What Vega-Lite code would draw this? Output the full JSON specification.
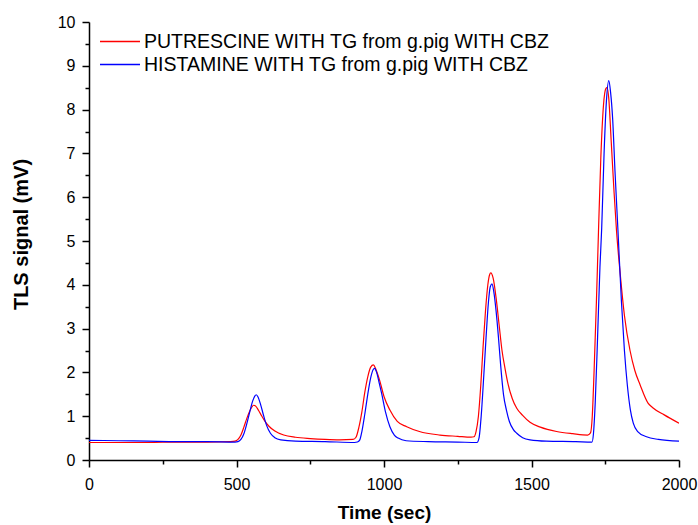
{
  "$schema": "https://vega.github.io/schema/vega-lite/v6.json",
  "width": 590,
  "height": 438,
  "autosize": {"type": "none"},
  "padding": {"left": 89, "top": 22, "right": 19, "bottom": 65},
  "background": "white",
  "config": {
    "view": {"stroke": null},
    "font": "Liberation Sans",
    "axis": {
      "grid": false,
      "domainColor": "black",
      "domainWidth": 1.5,
      "tickColor": "black",
      "tickWidth": 1.5,
      "labelColor": "black",
      "labelFont": "Liberation Sans",
      "labelFontSize": 16,
      "titleFont": "Liberation Sans",
      "titleFontSize": 19,
      "titleFontWeight": "bold",
      "titleColor": "black"
    }
  },
  "data": {"values": [
    {"t":0,"v":0.40,"s":"P"},{"t":100,"v":0.40,"s":"P"},{"t":200,"v":0.40,"s":"P"},{"t":300,"v":0.41,"s":"P"},{"t":400,"v":0.41,"s":"P"},{"t":480,"v":0.42,"s":"P"},{"t":495,"v":0.43,"s":"P"},{"t":505,"v":0.47,"s":"P"},{"t":515,"v":0.57,"s":"P"},{"t":525,"v":0.75,"s":"P"},{"t":535,"v":0.95,"s":"P"},{"t":545,"v":1.12,"s":"P"},{"t":552,"v":1.21,"s":"P"},{"t":558,"v":1.25,"s":"P"},{"t":565,"v":1.23,"s":"P"},{"t":575,"v":1.13,"s":"P"},{"t":585,"v":1.01,"s":"P"},{"t":595,"v":0.90,"s":"P"},{"t":610,"v":0.77,"s":"P"},{"t":630,"v":0.66,"s":"P"},{"t":660,"v":0.57,"s":"P"},{"t":700,"v":0.52,"s":"P"},{"t":750,"v":0.49,"s":"P"},{"t":800,"v":0.47,"s":"P"},{"t":850,"v":0.46,"s":"P"},{"t":895,"v":0.47,"s":"P"},{"t":905,"v":0.52,"s":"P"},{"t":915,"v":0.75,"s":"P"},{"t":925,"v":1.10,"s":"P"},{"t":935,"v":1.55,"s":"P"},{"t":945,"v":1.90,"s":"P"},{"t":955,"v":2.12,"s":"P"},{"t":964,"v":2.17,"s":"P"},{"t":972,"v":2.08,"s":"P"},{"t":980,"v":1.93,"s":"P"},{"t":986,"v":1.80,"s":"P"},{"t":1000,"v":1.45,"s":"P"},{"t":1020,"v":1.14,"s":"P"},{"t":1045,"v":0.88,"s":"P"},{"t":1077,"v":0.76,"s":"P"},{"t":1120,"v":0.65,"s":"P"},{"t":1190,"v":0.57,"s":"P"},{"t":1250,"v":0.54,"s":"P"},{"t":1295,"v":0.52,"s":"P"},{"t":1305,"v":0.53,"s":"P"},{"t":1312,"v":0.65,"s":"P"},{"t":1320,"v":1.00,"s":"P"},{"t":1328,"v":1.70,"s":"P"},{"t":1336,"v":2.60,"s":"P"},{"t":1344,"v":3.40,"s":"P"},{"t":1352,"v":4.00,"s":"P"},{"t":1358,"v":4.23,"s":"P"},{"t":1362,"v":4.27,"s":"P"},{"t":1370,"v":4.15,"s":"P"},{"t":1380,"v":3.70,"s":"P"},{"t":1390,"v":3.10,"s":"P"},{"t":1400,"v":2.50,"s":"P"},{"t":1410,"v":2.10,"s":"P"},{"t":1420,"v":1.75,"s":"P"},{"t":1435,"v":1.40,"s":"P"},{"t":1450,"v":1.18,"s":"P"},{"t":1470,"v":1.02,"s":"P"},{"t":1495,"v":0.86,"s":"P"},{"t":1530,"v":0.75,"s":"P"},{"t":1585,"v":0.65,"s":"P"},{"t":1640,"v":0.60,"s":"P"},{"t":1690,"v":0.57,"s":"P"},{"t":1700,"v":0.62,"s":"P"},{"t":1706,"v":1.00,"s":"P"},{"t":1712,"v":2.00,"s":"P"},{"t":1720,"v":3.60,"s":"P"},{"t":1727,"v":5.20,"s":"P"},{"t":1735,"v":6.90,"s":"P"},{"t":1744,"v":8.10,"s":"P"},{"t":1752,"v":8.48,"s":"P"},{"t":1756,"v":8.50,"s":"P"},{"t":1762,"v":8.25,"s":"P"},{"t":1770,"v":7.30,"s":"P"},{"t":1780,"v":6.10,"s":"P"},{"t":1788,"v":5.25,"s":"P"},{"t":1800,"v":4.30,"s":"P"},{"t":1815,"v":3.30,"s":"P"},{"t":1834,"v":2.50,"s":"P"},{"t":1850,"v":2.05,"s":"P"},{"t":1868,"v":1.72,"s":"P"},{"t":1895,"v":1.30,"s":"P"},{"t":1910,"v":1.20,"s":"P"},{"t":1950,"v":1.03,"s":"P"},{"t":2000,"v":0.84,"s":"P"},
    {"t":0,"v":0.45,"s":"H"},{"t":100,"v":0.44,"s":"H"},{"t":200,"v":0.43,"s":"H"},{"t":300,"v":0.42,"s":"H"},{"t":400,"v":0.42,"s":"H"},{"t":495,"v":0.41,"s":"H"},{"t":505,"v":0.42,"s":"H"},{"t":515,"v":0.47,"s":"H"},{"t":525,"v":0.60,"s":"H"},{"t":535,"v":0.83,"s":"H"},{"t":545,"v":1.10,"s":"H"},{"t":555,"v":1.35,"s":"H"},{"t":562,"v":1.46,"s":"H"},{"t":567,"v":1.49,"s":"H"},{"t":573,"v":1.44,"s":"H"},{"t":582,"v":1.26,"s":"H"},{"t":592,"v":1.01,"s":"H"},{"t":602,"v":0.79,"s":"H"},{"t":615,"v":0.61,"s":"H"},{"t":630,"v":0.51,"s":"H"},{"t":650,"v":0.46,"s":"H"},{"t":700,"v":0.43,"s":"H"},{"t":800,"v":0.42,"s":"H"},{"t":900,"v":0.40,"s":"H"},{"t":910,"v":0.41,"s":"H"},{"t":918,"v":0.46,"s":"H"},{"t":925,"v":0.65,"s":"H"},{"t":935,"v":1.05,"s":"H"},{"t":945,"v":1.50,"s":"H"},{"t":955,"v":1.88,"s":"H"},{"t":963,"v":2.06,"s":"H"},{"t":968,"v":2.09,"s":"H"},{"t":975,"v":2.00,"s":"H"},{"t":983,"v":1.78,"s":"H"},{"t":992,"v":1.52,"s":"H"},{"t":1005,"v":1.10,"s":"H"},{"t":1020,"v":0.76,"s":"H"},{"t":1035,"v":0.57,"s":"H"},{"t":1048,"v":0.50,"s":"H"},{"t":1075,"v":0.44,"s":"H"},{"t":1150,"v":0.42,"s":"H"},{"t":1250,"v":0.41,"s":"H"},{"t":1315,"v":0.40,"s":"H"},{"t":1322,"v":0.50,"s":"H"},{"t":1330,"v":1.05,"s":"H"},{"t":1338,"v":1.90,"s":"H"},{"t":1346,"v":2.80,"s":"H"},{"t":1354,"v":3.60,"s":"H"},{"t":1360,"v":3.95,"s":"H"},{"t":1366,"v":4.02,"s":"H"},{"t":1372,"v":3.85,"s":"H"},{"t":1380,"v":3.40,"s":"H"},{"t":1388,"v":2.80,"s":"H"},{"t":1395,"v":2.20,"s":"H"},{"t":1405,"v":1.50,"s":"H"},{"t":1415,"v":1.14,"s":"H"},{"t":1425,"v":0.88,"s":"H"},{"t":1438,"v":0.70,"s":"H"},{"t":1450,"v":0.61,"s":"H"},{"t":1470,"v":0.51,"s":"H"},{"t":1495,"v":0.46,"s":"H"},{"t":1550,"v":0.43,"s":"H"},{"t":1650,"v":0.42,"s":"H"},{"t":1705,"v":0.41,"s":"H"},{"t":1710,"v":0.60,"s":"H"},{"t":1716,"v":1.30,"s":"H"},{"t":1724,"v":2.80,"s":"H"},{"t":1732,"v":4.40,"s":"H"},{"t":1738,"v":5.30,"s":"H"},{"t":1746,"v":7.00,"s":"H"},{"t":1754,"v":8.20,"s":"H"},{"t":1762,"v":8.66,"s":"H"},{"t":1768,"v":8.40,"s":"H"},{"t":1775,"v":7.80,"s":"H"},{"t":1783,"v":6.60,"s":"H"},{"t":1793,"v":5.25,"s":"H"},{"t":1805,"v":3.60,"s":"H"},{"t":1815,"v":2.50,"s":"H"},{"t":1825,"v":1.70,"s":"H"},{"t":1835,"v":1.15,"s":"H"},{"t":1845,"v":0.84,"s":"H"},{"t":1860,"v":0.65,"s":"H"},{"t":1890,"v":0.53,"s":"H"},{"t":1930,"v":0.47,"s":"H"},{"t":2000,"v":0.43,"s":"H"}
  ]},
  "transform": [
    {"lookup": "s", "from": {"data": {"values": [
      {"s": "P", "name": "PUTRESCINE WITH TG from g.pig WITH CBZ"},
      {"s": "H", "name": "HISTAMINE WITH TG from g.pig WITH CBZ"}
    ]}, "key": "s", "fields": ["name"]}}
  ],
  "mark": {"type": "line", "interpolate": "monotone", "strokeWidth": 1.2, "clip": true},
  "encoding": {
    "x": {
      "field": "t", "type": "quantitative",
      "scale": {"domain": [0, 2000], "nice": false, "zero": false},
      "axis": {
        "title": "Time (sec)",
        "values": [0, 250, 500, 750, 1000, 1250, 1500, 1750, 2000],
        "format": "d",
        "labelExpr": "datum.value % 500 === 0 ? datum.label : ''",
        "tickSize": {"condition": {"test": "datum.value % 500 === 0", "value": 7}, "value": 4},
        "labelPadding": 9,
        "labelFlush": false,
        "labelOverlap": false,
        "titleY": 43,
        "titleBaseline": "top"
      }
    },
    "y": {
      "field": "v", "type": "quantitative",
      "scale": {"domain": [0, 10], "nice": false},
      "axis": {
        "title": "TLS signal (mV)",
        "values": [0, 0.5, 1, 1.5, 2, 2.5, 3, 3.5, 4, 4.5, 5, 5.5, 6, 6.5, 7, 7.5, 8, 8.5, 9, 9.5, 10],
        "format": "~g",
        "labelExpr": "datum.value % 1 === 0 ? datum.label : ''",
        "tickSize": {"condition": {"test": "datum.value % 1 === 0", "value": 7}, "value": 4},
        "labelPadding": 7,
        "labelFlush": false,
        "labelOverlap": false,
        "titleX": -58,
        "titleY": 212,
        "titleAngle": -90,
        "titleFontSize": 20,
        "titleBaseline": "bottom"
      }
    },
    "color": {
      "field": "name", "type": "nominal",
      "scale": {
        "domain": ["PUTRESCINE WITH TG from g.pig WITH CBZ", "HISTAMINE WITH TG from g.pig WITH CBZ"],
        "range": ["#ff0000", "#0000ff"]
      },
      "legend": {
        "title": null,
        "orient": "none",
        "legendX": 10,
        "legendY": 8,
        "symbolType": "stroke",
        "symbolSize": 1600,
        "symbolStrokeWidth": 1.3,
        "clipHeight": 23,
        "labelFont": "Liberation Sans",
        "labelFontSize": 19.5,
        "labelColor": "black",
        "labelOffset": 3,
        "labelLimit": 600,
        "rowPadding": 0,
        "padding": 0
      }
    }
  }
}
